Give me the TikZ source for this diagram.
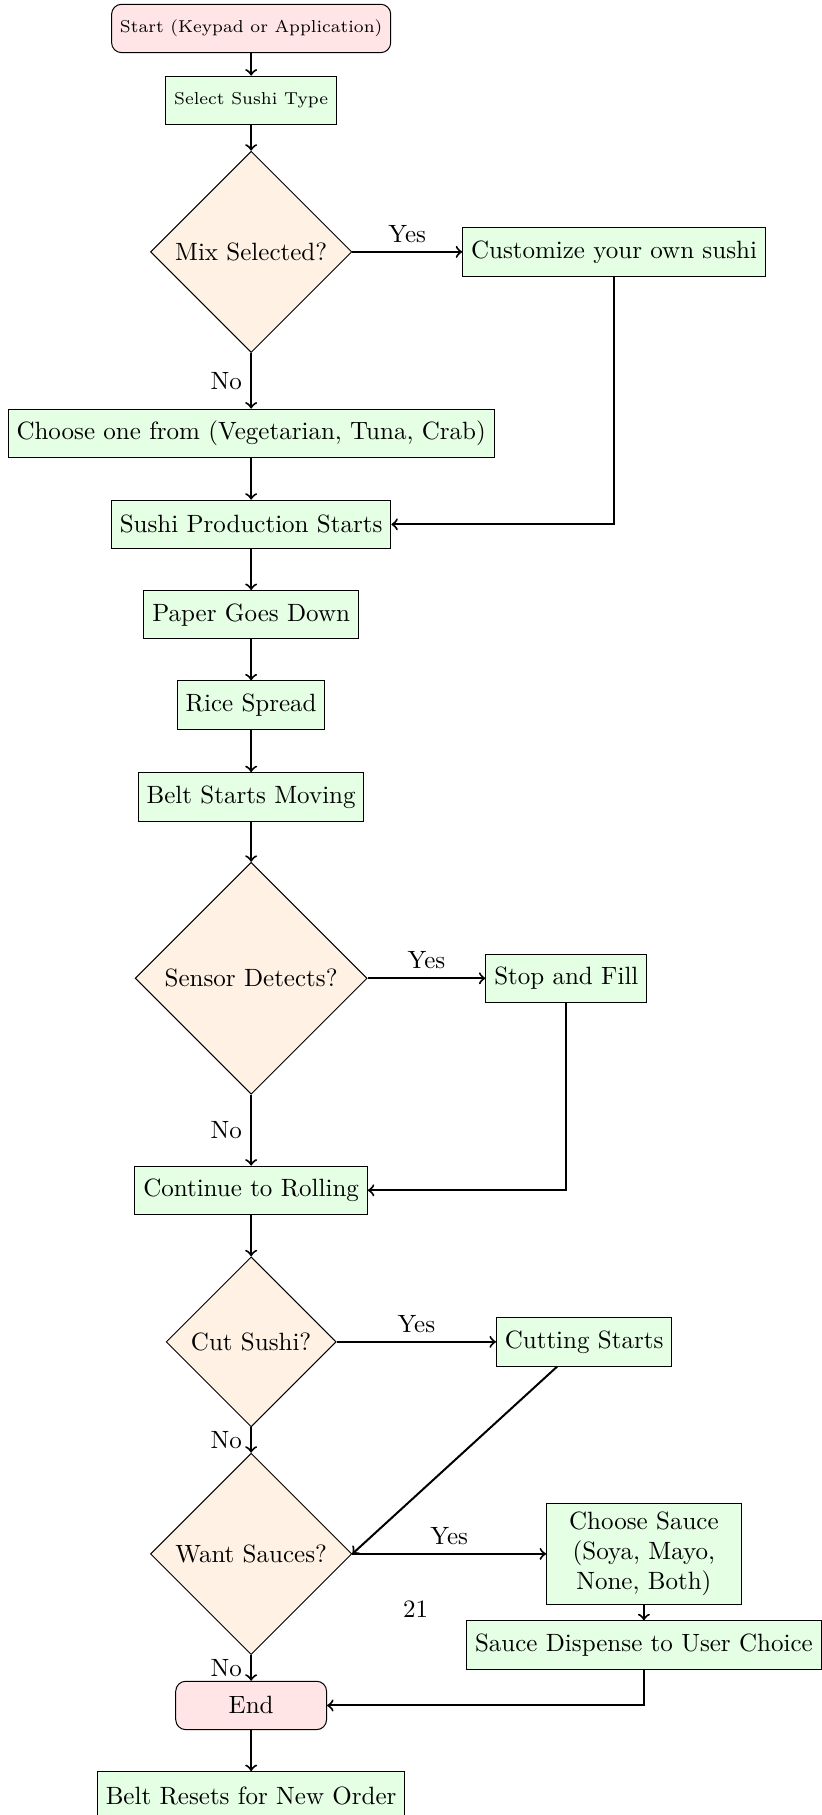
\documentclass[tikz,border=0pt]{standalone}
\usepackage{tikz}
\usetikzlibrary{shapes.geometric}

\begin{document}
\begin{tikzpicture}[
        box/.style={draw, rectangle, fill=green!10, minimum height=0.68cm},
        terminal/.style={draw, rectangle, rounded corners, fill=red!10, minimum height=0.68cm},
        decision/.style={draw, diamond, aspect=1, fill=orange!10, inner sep=1pt},
        arrow/.style={thick, ->}
    ]
        \useasboundingbox (-3.53, 0) rectangle (8.01, -25.51);
        \node[terminal, font=\fontsize{6.9}{8.5}\selectfont] (Start) at (0, -0.40) {Start (Keypad or Application)};
        \node[box, font=\fontsize{6.9}{8.5}\selectfont] (Select) at (0, -1.41) {Select Sushi Type};
        \node[decision, minimum size=2.83cm] (Mix) at (0, -3.54) {Mix Selected?};
        \node[box] (Custom) at (5.10, -3.54) {Customize your own sushi};
        \node[box] (Choose) at (0, -6.09) {Choose one from (Vegetarian, Tuna, Crab)};
        \node[box] (Prod) at (0, -7.37) {Sushi Production Starts};
        \node[box] (Paper) at (0, -8.64) {Paper Goes Down};
        \node[box] (Rice) at (0, -9.91) {Rice Spread};
        \node[box] (Belt) at (0, -11.20) {Belt Starts Moving};
        \node[decision, minimum size=3.26cm] (Sensor) at (0, -13.75) {Sensor Detects?};
        \node[box] (Fill) at (4.43, -13.75) {Stop and Fill};
        \node[box] (Roll) at (0, -16.73) {Continue to Rolling};
        \node[decision, minimum size=2.39cm] (Cut) at (0, -18.86) {Cut Sushi?};
        \node[box] (Cutting) at (4.68, -18.86) {Cutting Starts};
        \node[decision, minimum size=2.83cm] (Sauce) at (0, -21.84) {Want Sauces?};
        \node[box, text width=2.5cm, align=center] (Pick) at (5.52, -21.84) {Choose Sauce (Soya, Mayo, None, Both)};
        \node[box] (Dispense) at (5.52, -23.12) {Sauce Dispense to User Choice};
        \node (Page) at (2.31, -22.61) {21};
        \node[terminal, minimum width=2.12cm] (End) at (0, -23.97) {End};
        \node[box] (Reset) at (0, -25.24) {Belt Resets for New Order};
        \draw[arrow] (Start) -- (Select);
        \draw[arrow] (Select) -- (Mix);
        \draw[arrow] (Mix) -- node[above] {Yes} (Custom);
        \draw[arrow] (Mix) -- node[left] {No} (Choose);
        \draw[arrow] (Choose) -- (Prod);
        \draw[arrow] (Custom) |- (Prod);
        \draw[arrow] (Prod) -- (Paper);
        \draw[arrow] (Paper) -- (Rice);
        \draw[arrow] (Rice) -- (Belt);
        \draw[arrow] (Belt) -- (Sensor);
        \draw[arrow] (Sensor) -- node[above] {Yes} (Fill);
        \draw[arrow] (Sensor) -- node[left] {No} (Roll);
        \draw[arrow] (Fill) |- (Roll);
        \draw[arrow] (Roll) -- (Cut);
        \draw[arrow] (Cut) -- node[above] {Yes} (Cutting);
        \draw[arrow] (Cut) -- node[left] {No} (Sauce);
        \draw[arrow] (Cutting) -- (Sauce.east);
        \draw[arrow] (Sauce) -- node[above] {Yes} (Pick);
        \draw[arrow] (Sauce) -- node[left] {No} (End);
        \draw[arrow] (Pick) -- (Dispense);
        \draw[arrow] (Dispense) |- (End);
        \draw[arrow] (End) -- (Reset);
    \end{tikzpicture}
\end{document}
